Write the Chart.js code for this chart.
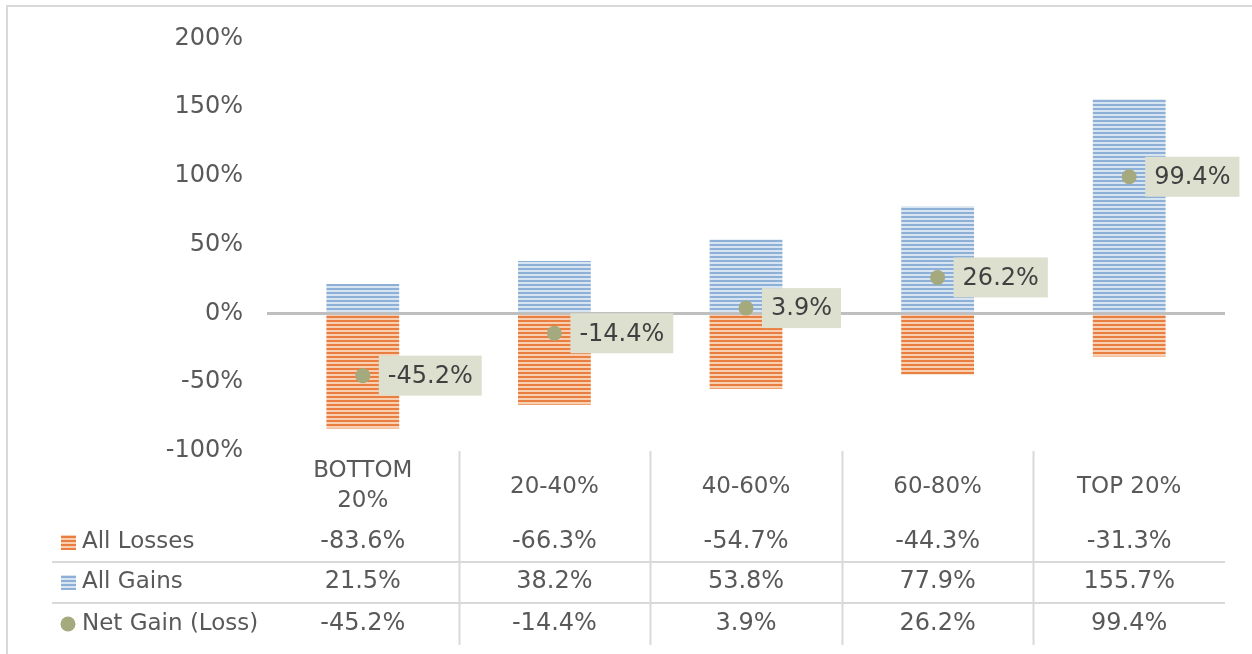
<!DOCTYPE html>
<html>
<head>
<meta charset="utf-8">
<title>Gains and losses by quintile</title>
<script src="https://cdn.jsdelivr.net/npm/chart.js@4"></script>
<style>
  body { margin: 0; background: #fff; }
  #wrap { width: 1252px; height: 654px; }
</style>
</head>
<body>
<div id="wrap"><canvas id="chart" width="1252" height="654"></canvas></div>
<script>
const categories = [["BOTTOM", "20%"], "20-40%", "40-60%", "60-80%", "TOP 20%"];
const allLosses = [-83.6, -66.3, -54.7, -44.3, -31.3];
const allGains = [21.5, 38.2, 53.8, 77.9, 155.7];
const netGain = [-45.2, -14.4, 3.9, 26.2, 99.4];
const yTicks = { min: -100, max: 200, step: 50 };

const FONT = "'DejaVu Sans', sans-serif";
const TEXT = "#595959";
const GRID = "#d9d9d9";
const DOT = "#a4a97e";

// striped fill like the Excel pattern
function stripes(dark, light) {
  const c = document.createElement("canvas");
  c.width = 4;
  c.height = 4;
  const g = c.getContext("2d");
  g.fillStyle = light;
  g.fillRect(0, 0, 4, 4);
  g.fillStyle = dark;
  g.fillRect(0, 0, 4, 2);
  return g.createPattern(c, "repeat");
}

const orangeFill = stripes("#e87e3f", "#f8cfb1");
const blueFill = stripes("#8fb0d6", "#d7e4f1");

const pct = v => v.toFixed(1) + "%";

// data labels, frame and the data table under the plot
const tablePlugin = {
  id: "table",
  beforeDraw(chart) {
    const ctx = chart.ctx;
    ctx.save();
    ctx.strokeStyle = GRID;
    ctx.lineWidth = 2;
    ctx.beginPath();
    ctx.moveTo(7, 654);
    ctx.lineTo(7, 6);
    ctx.lineTo(1252, 6);
    ctx.stroke();
    ctx.restore();
  },
  afterDatasetsDraw(chart) {
    const ctx = chart.ctx;
    const meta = chart.getDatasetMeta(2);
    ctx.save();
    ctx.font = "24px " + FONT;
    ctx.textBaseline = "middle";
    meta.data.forEach((pt, i) => {
      const txt = pct(netGain[i]);
      const w = ctx.measureText(txt).width + 18;
      const x0 = pt.x + 16;
      ctx.fillStyle = "#dddfcf";
      ctx.fillRect(x0, pt.y - 20, w, 40);
      ctx.fillStyle = "#404040";
      ctx.textAlign = "left";
      ctx.fillText(txt, x0 + 9, pt.y + 1);
    });
    ctx.restore();
  },
  afterDraw(chart) {
    const ctx = chart.ctx;
    const xs = chart.scales.x;
    const area = chart.chartArea;
    const colW = (area.right - area.left) / categories.length;
    const rowY = [542, 582, 624];

    ctx.save();
    ctx.strokeStyle = GRID;
    ctx.lineWidth = 2;
    // column separators
    for (let i = 1; i < categories.length; i++) {
      const x = Math.round(area.left + i * colW) + 0.5;
      ctx.beginPath();
      ctx.moveTo(x, area.bottom);
      ctx.lineTo(x, 645);
      ctx.stroke();
    }
    // row separators
    [562, 603].forEach(y => {
      ctx.beginPath();
      ctx.moveTo(52, y);
      ctx.lineTo(area.right, y);
      ctx.stroke();
    });

    ctx.fillStyle = TEXT;
    ctx.font = "23px " + FONT;
    ctx.textAlign = "center";
    ctx.textBaseline = "middle";
    categories.forEach((c, i) => {
      const x = xs.getPixelForValue(i);
      if (Array.isArray(c)) {
        ctx.fillText(c[0], x, 471);
        ctx.fillText(c[1], x, 501);
      } else {
        ctx.fillText(c, x, 487);
      }
    });

    ctx.font = "24px " + FONT;
    const rows = [allLosses, allGains, netGain];
    rows.forEach((vals, r) => {
      vals.forEach((v, i) => {
        ctx.fillText(pct(v), xs.getPixelForValue(i), rowY[r]);
      });
    });

    // legend keys
    ctx.fillStyle = orangeFill;
    ctx.fillRect(61, rowY[0] - 7, 15, 15);
    ctx.fillStyle = blueFill;
    ctx.fillRect(61, rowY[1] - 7, 15, 15);
    ctx.fillStyle = DOT;
    ctx.beginPath();
    ctx.arc(68, rowY[2], 7.5, 0, Math.PI * 2);
    ctx.fill();

    ctx.fillStyle = TEXT;
    ctx.font = "23px " + FONT;
    ctx.textAlign = "left";
    ["All Losses", "All Gains", "Net Gain (Loss)"].forEach((t, r) => {
      ctx.fillText(t, 82, rowY[r]);
    });
    ctx.restore();
  }
};

new Chart(document.getElementById("chart"), {
  type: "bar",
  data: {
    labels: categories,
    datasets: [
      {
        label: "All Losses",
        data: allLosses,
        backgroundColor: orangeFill,
        borderWidth: 0,
        order: 2
      },
      {
        label: "All Gains",
        data: allGains,
        backgroundColor: blueFill,
        borderWidth: 0,
        order: 2
      },
      {
        type: "line",
        label: "Net Gain (Loss)",
        data: netGain,
        showLine: false,
        pointRadius: 7.5,
        pointBackgroundColor: DOT,
        pointBorderWidth: 0,
        order: 0
      }
    ]
  },
  options: {
    responsive: false,
    animation: false,
    layout: { padding: { top: 35, right: 27, bottom: 203, left: 0 } },
    datasets: {
      bar: { barPercentage: 0.38, categoryPercentage: 1 }
    },
    plugins: {
      legend: { display: false },
      tooltip: { enabled: false }
    },
    scales: {
      x: {
        display: false,
        stacked: true
      },
      y: {
        min: yTicks.min,
        max: yTicks.max,
        afterFit: scale => { scale.width = 267; },
        border: { display: false },
        grid: {
          drawTicks: false,
          color: c => (c.tick && c.tick.value === 0 ? "#bfbfbf" : "transparent"),
          lineWidth: c => (c.tick && c.tick.value === 0 ? 3 : 0)
        },
        ticks: {
          stepSize: yTicks.step,
          padding: 24,
          color: TEXT,
          font: { family: FONT, size: 24 },
          callback: v => v + "%"
        }
      }
    }
  },
  plugins: [tablePlugin]
});
</script>
</body>
</html>
